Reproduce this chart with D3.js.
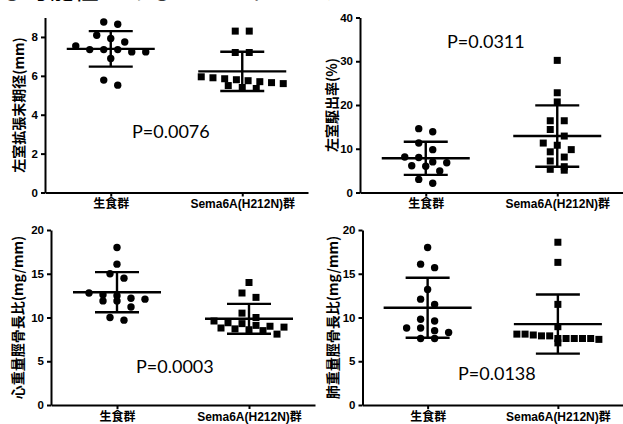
<!DOCTYPE html>
<html>
<head>
<meta charset="utf-8">
<script src="https://cdn.jsdelivr.net/npm/d3@7"></script>
<style>
  body { margin: 0; background: #fff; }
  svg { display: block; }
</style>
</head>
<body>
<svg id="chart"></svg>
<script>
const width = 623
const height = 424

const groups = ['生食群', 'Sema6A(H212N)群']

// left ventricular end-diastolic diameter (mm)
const lvddControl = [8.77, 8.65, 8.09, 7.92, 7.74, 7.54, 7.35, 7.23, 7.23, 7.35, 7.35, 6.89, 5.78, 5.52]
const lvddSema = [8.3, 8.3, 7.2, 7.2, 5.95, 5.9, 5.85, 5.8, 5.75, 5.7, 5.65, 5.6, 5.5, 5.4, 5.35]

// ejection fraction (%)
const efControl = [13.9, 14.6, 11.3, 9.8, 8.0, 8.1, 7.0, 6.1, 6.8, 4.9, 6.0, 3.0, 2.1]
const efSema = [30.2, 22.8, 20.7, 16.4, 16.4, 14.4, 12.9, 11.3, 10.8, 9.8, 9.3, 8.1, 7.2, 5.3, 5.1, 5.9]

// heart weight / tibia length (mg/mm)
const hwControl = [18.0, 16.1, 14.5, 15.0, 12.8, 12.2, 11.9, 12.6, 11.9, 12.1, 12.5, 11.2, 10.0, 9.7]
const hwSema = [14.0, 12.8, 12.3, 10.5, 10.0, 9.6, 9.4, 9.3, 9.1, 9.0, 8.9, 8.8, 8.7, 8.6, 8.5, 8.1]

// lung weight / tibia length (mg/mm)
const lwControl = [18.0, 16.1, 15.7, 13.2, 12.1, 11.5, 9.6, 9.8, 8.5, 8.8, 8.8, 8.3, 7.6, 7.6]
const lwSema = [18.6, 16.3, 11.5, 8.95, 7.5, 8.0, 7.6, 7.9, 8.1, 7.1, 7.9, 7.6, 7.6, 8.1, 7.6, 7.6]

const yLabels = ['左室拡張末期径(mm)', '左室駆出率(%)', '心重量脛骨長比(mg/mm)', '肺重量脛骨長比(mg/mm)']
const pLabels = ['P=0.0076', 'P=0.0311', 'P=0.0003', 'P=0.0138']
const yMax = [9, 40, 20, 20]
const yTicks = [[0, 2, 4, 6, 8], [0, 10, 20, 30, 40], [0, 5, 10, 15, 20], [0, 5, 10, 15, 20]]

const headline = 'る可能性があることがわかった'

// layout of the four panels
const panels = [
  {data: [lvddControl, lvddSema], x0: 45, x1: 308, top: 17.5, bottom: 192.5, labelX: 18, pX: 132, pY: 138},
  {data: [efControl, efSema], x0: 360, x1: 623, top: 17.5, bottom: 192.5, labelX: 331, pX: 447, pY: 48},
  {data: [hwControl, hwSema], x0: 51, x1: 315, top: 230, bottom: 405, labelX: 17, pX: 136, pY: 373},
  {data: [lwControl, lwSema], x0: 362.5, x1: 623, top: 230, bottom: 405, labelX: 332, pX: 458, pY: 380}
]

const svg = d3.select('#chart')
  .attr('width', width)
  .attr('height', height)

svg.append('rect')
  .attr('width', width)
  .attr('height', height)
  .attr('fill', '#fff')

// cropped line of text above the charts
svg.append('text')
  .attr('x', -1)
  .attr('y', -1.5)
  .attr('font-family', '"Noto Sans CJK JP"')
  .attr('font-size', 25)
  .attr('fill', '#000')
  .text(headline)

// GraphPad-like scatter: points with close values share a row, spread around the centre
function swarm(values, cx, y) {
  let sorted = values.slice().sort((a, b) => b - a)
  let rows = []
  let row = null
  sorted.forEach(v => {
    let py = y(v)
    if (row && py - row.start < 7) row.items.push(v)
    else {
      row = {start: py, items: [v]}
      rows.push(row)
    }
  })
  let out = []
  rows.forEach(r => {
    let n = r.items.length
    let step = n > 1 ? Math.min(14, 82 / (n - 1)) : 0
    r.items.forEach((v, k) => out.push({x: cx + (k - (n - 1) / 2) * step, y: y(v)}))
  })
  return out
}

panels.forEach((p, i) => {
  const y = d3.scaleLinear()
    .domain([0, yMax[i]])
    .range([p.bottom, p.top])
  // groups sit at 1/4 and 3/4 of the axis
  const x = d3.scalePoint()
    .domain(groups)
    .range([p.x0, p.x1])
    .padding(0.5)

  const g = svg.append('g')

  // points
  p.data.forEach((values, gi) => {
    let pts = swarm(values, x(groups[gi]), y)
    if (gi === 0) {
      g.append('g').selectAll('circle')
        .data(pts)
        .join('circle')
          .attr('cx', d => d.x)
          .attr('cy', d => d.y)
          .attr('r', 3.7)
          .attr('fill', '#000')
    } else {
      g.append('g').selectAll('rect')
        .data(pts)
        .join('rect')
          .attr('x', d => d.x - 3.5)
          .attr('y', d => d.y - 3.5)
          .attr('width', 7)
          .attr('height', 7)
          .attr('fill', '#000')
    }

    // mean and SD
    let cx = x(groups[gi])
    let m = d3.mean(values)
    let sd = d3.deviation(values)
    let bars = g.append('g')
      .attr('stroke', '#000')
      .attr('stroke-width', 2.4)
    bars.append('line')
      .attr('x1', cx - 44).attr('x2', cx + 44)
      .attr('y1', y(m)).attr('y2', y(m))
    bars.append('line')
      .attr('x1', cx).attr('x2', cx)
      .attr('y1', y(m + sd)).attr('y2', y(m - sd))
    ;[m + sd, m - sd].forEach(v => {
      bars.append('line')
        .attr('x1', cx - 22).attr('x2', cx + 22)
        .attr('y1', y(v)).attr('y2', y(v))
    })
  })

  // axes
  const yAxis = g.append('g')
    .attr('transform', `translate(${p.x0},0)`)
    .call(d3.axisLeft(y).tickValues(yTicks[i]).tickSize(4).tickSizeOuter(0).tickPadding(3))
  const xAxis = g.append('g')
    .attr('transform', `translate(0,${p.bottom})`)
    .call(d3.axisBottom(x).tickSize(4).tickSizeOuter(0).tickPadding(3))

  ;[yAxis, xAxis].forEach(a => {
    a.select('.domain').attr('stroke-width', 2).attr('stroke', '#000')
    a.selectAll('.tick line').attr('stroke-width', 2).attr('stroke', '#000')
    a.selectAll('.tick text')
      .attr('fill', '#000')
      .attr('font-weight', 'bold')
      .attr('font-family', '"Liberation Sans", "Noto Sans CJK JP", sans-serif')
  })
  yAxis.selectAll('.tick text').attr('font-size', 11.5)
  xAxis.selectAll('.tick text').attr('font-size', 12)

  // y label
  g.append('text')
    .attr('transform', `translate(${p.labelX},${(p.top + p.bottom) / 2}) rotate(-90)`)
    .attr('text-anchor', 'middle')
    .attr('dominant-baseline', 'central')
    .attr('font-family', '"Noto Sans CJK JP"')
    .attr('font-weight', 'bold')
    .attr('font-size', 14)
    .attr('fill', '#000')
    .text(yLabels[i])

  // p value
  g.append('text')
    .attr('x', p.pX)
    .attr('y', p.pY)
    .attr('font-family', 'Lato, "Open Sans", sans-serif')
    .attr('font-size', 18)
    .attr('fill', '#000')
    .text(pLabels[i])
})
</script>
</body>
</html>
